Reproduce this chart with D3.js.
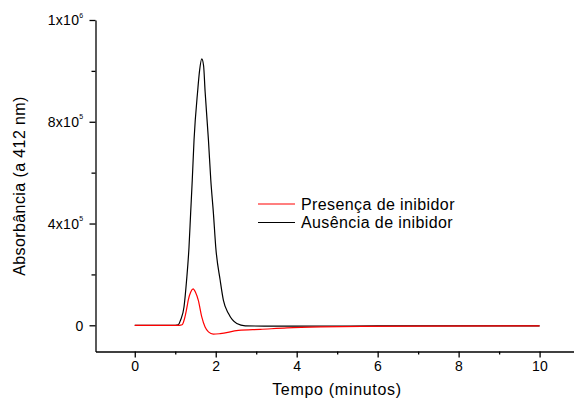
<!DOCTYPE html>
<html><head><meta charset="utf-8">
<script src="https://cdn.jsdelivr.net/npm/d3@7"></script>
<style>body{margin:0;background:#fff}svg{display:block;font-family:Arial,"Liberation Sans",sans-serif}</style>
</head><body>
<svg id="c" width="574" height="398"></svg>
<script>
// Data (time in minutes, absorbance)
const blackTime   = [0, 0.5, 1.0, 1.075, 1.13, 1.216, 1.28, 1.34, 1.38, 1.42, 1.464, 1.556, 1.60, 1.655, 1.70, 1.737, 1.82, 1.878, 1.943, 2.0, 2.11, 2.19, 2.315, 2.52, 2.73, 3.2, 4, 6, 8, 10];
const blackValues = [0, 0, 0, 2000, 20000, 72000, 177000, 308000, 440000, 570000, 728000, 925000, 1000000, 1047000, 1020000, 920000, 728000, 571000, 440000, 308000, 177000, 98000, 46000, 7000, -2000, -3000, -3000, -2500, -2000, -2000];
const redTime   = [0, 0.5, 1.0, 1.1, 1.17, 1.24, 1.30, 1.32, 1.38, 1.44, 1.50, 1.57, 1.655, 1.737, 1.82, 1.94, 2.11, 2.56, 3.1, 3.76, 4.6, 5.6, 7, 10];
const redValues = [0, 0, 0, 0, 2000, 33000, 80000, 98000, 130000, 143000, 130000, 98000, 33000, -7000, -26000, -35000, -33000, -20000, -16000, -10500, -6500, -4000, -3000, -2000];

const xMajorTicks = [0, 2, 4, 6, 8, 10];
const xMinorTicks = [1, 3, 5, 7, 9];
const yMajorTicks = [0, 400000, 800000, 1200000];
const yTickBase   = ["0", "4x10", "8x10", "1x10"];
const yTickExp    = ["", "5", "5", "6"];
const yMinorTicks = [200000, 600000, 1000000];

const seriesNames = ["Presença de inibidor", "Ausência de inibidor"];
const seriesColors = ["#ff0000", "#000000"];
const xTitle = "Tempo (minutos)";
const yTitle = "Absorbância (a 412 nm)";

const FONT = "Arial, 'Liberation Sans', sans-serif";
const svg = d3.select("#c");
const x = d3.scaleLinear().domain([-0.97, 10.85]).range([95.5, 574]);
const y = d3.scaleLinear().domain([-103000, 1200000]).range([351.5, 20]);

// X axis
const gx = svg.append("g").attr("transform", `translate(0,${y.range()[0]})`);
gx.call(d3.axisBottom(x).tickValues(xMajorTicks).tickSize(6).tickSizeOuter(0).tickPadding(4).tickFormat(d3.format("d")));
gx.append("g").call(d3.axisBottom(x).tickValues(xMinorTicks).tickSize(3).tickSizeOuter(0).tickFormat(""))
  .select(".domain").remove();
gx.selectAll("text").attr("font-size", 14).attr("fill", "#000").attr("font-family", FONT).attr("letter-spacing", 0.3);
gx.selectAll("line,path").attr("stroke", "#000").attr("stroke-width", 1.3);

// Y axis
const gy = svg.append("g").attr("transform", `translate(${x.range()[0]},0)`);
gy.call(d3.axisLeft(y).tickValues(yMajorTicks).tickSize(6).tickSizeOuter(0).tickPadding(6).tickFormat(""));
gy.append("g").call(d3.axisLeft(y).tickValues(yMinorTicks).tickSize(4).tickSizeOuter(0).tickFormat(""))
  .select(".domain").remove();
gy.selectAll("line,path").attr("stroke", "#000").attr("stroke-width", 1.3);
gy.selectAll(".tick").filter(d => yMajorTicks.includes(d)).each(function(d) {
  const i = yMajorTicks.indexOf(d);
  const t = d3.select(this).select("text")
    .attr("x", -12).attr("dy", "0.35em")
    .attr("font-size", 14).attr("fill", "#000").attr("font-family", FONT)
    .attr("letter-spacing", 0.3)
    .attr("text-anchor", "end");
  t.append("tspan").text(yTickBase[i]);
  if (yTickExp[i]) t.append("tspan").attr("font-size", 7).attr("dy", "-1.1em").text(yTickExp[i]);
});

// Lines
const line = d3.line().x(d => x(d[0])).y(d => y(d[1])).curve(d3.curveMonotoneX);
const blackData = blackTime.map((t, i) => [t, blackValues[i]]);
const redData = redTime.map((t, i) => [t, redValues[i]]);
svg.append("path").datum(blackData).attr("d", line).attr("fill", "none").attr("stroke", seriesColors[1]).attr("stroke-width", 1.2);
svg.append("path").datum(redData).attr("d", line).attr("fill", "none").attr("stroke", seriesColors[0]).attr("stroke-width", 1.2);

// Legend
const legend = svg.append("g");
seriesNames.forEach((name, i) => {
  const ly = 204 + i * 18.5;
  legend.append("line").attr("x1", 258).attr("x2", 295).attr("y1", ly).attr("y2", ly)
    .attr("stroke", seriesColors[i]).attr("stroke-width", 1.2);
  legend.append("text").attr("x", 301).attr("y", ly).attr("dy", "0.35em")
    .attr("font-size", 16).attr("letter-spacing", 0.4).attr("fill", "#000").text(name);
});

// Axis titles
svg.append("text").attr("x", 337).attr("y", 395).attr("text-anchor", "middle")
  .attr("font-size", 16).attr("letter-spacing", 0.7).attr("fill", "#000").text(xTitle);
svg.append("text").attr("transform", "translate(25,186) rotate(-90)").attr("text-anchor", "middle")
  .attr("font-size", 16).attr("letter-spacing", 0.4).attr("fill", "#000").text(yTitle);
</script>
</body></html>
